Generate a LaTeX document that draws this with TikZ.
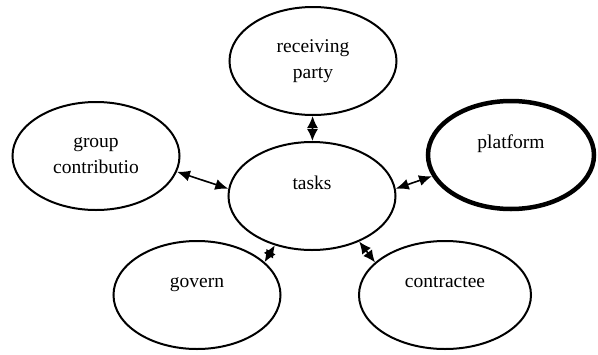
\documentclass[tikz,border=0pt]{standalone}
\usepackage{fontspec}
\setmainfont{Liberation Serif}
\usetikzlibrary{arrows.meta,shapes.geometric}

\begin{document}
\begin{tikzpicture}[
  x=1pt,y=-1pt,
  ell/.style={draw,ellipse,line width=2pt,inner sep=0pt,align=center,
              minimum width=167pt,minimum height=108pt,
              font=\fontsize{19.5}{26}\selectfont},
  thickell/.style={ell,line width=4.5pt},
  arr/.style={{Latex[length=13pt,width=11pt]}-{Latex[length=13pt,width=11pt]},line width=1.6pt},
  shortarr/.style={{Latex[length=12pt,width=11pt]}-{Latex[length=12pt,width=11pt]},line width=1.6pt}
]
\useasboundingbox (0,0) rectangle (598,354);
\node[ell] (t) at (312,196) {tasks\\~};
\node[ell] (r) at (313,61) {receiving\\party};
\node[ell] (g) at (96,156) {group\\contributio};
\node[thickell,minimum width=166pt] (p) at (511,155) {platform\\~};
\node[ell] (v) at (197,295) {govern\\~};
\node[ell,minimum width=172pt] (c) at (445,295) {contractee\\~};
\draw[shortarr] (r) -- (t);
\draw[arr] (g.-11) -- (t.175);
\draw[arr] (p.195) -- (t.5);
\draw[shortarr] (v.26) -- (t.233);
\draw[shortarr] (c.155) -- (t.-44);
\end{tikzpicture}
\end{document}
